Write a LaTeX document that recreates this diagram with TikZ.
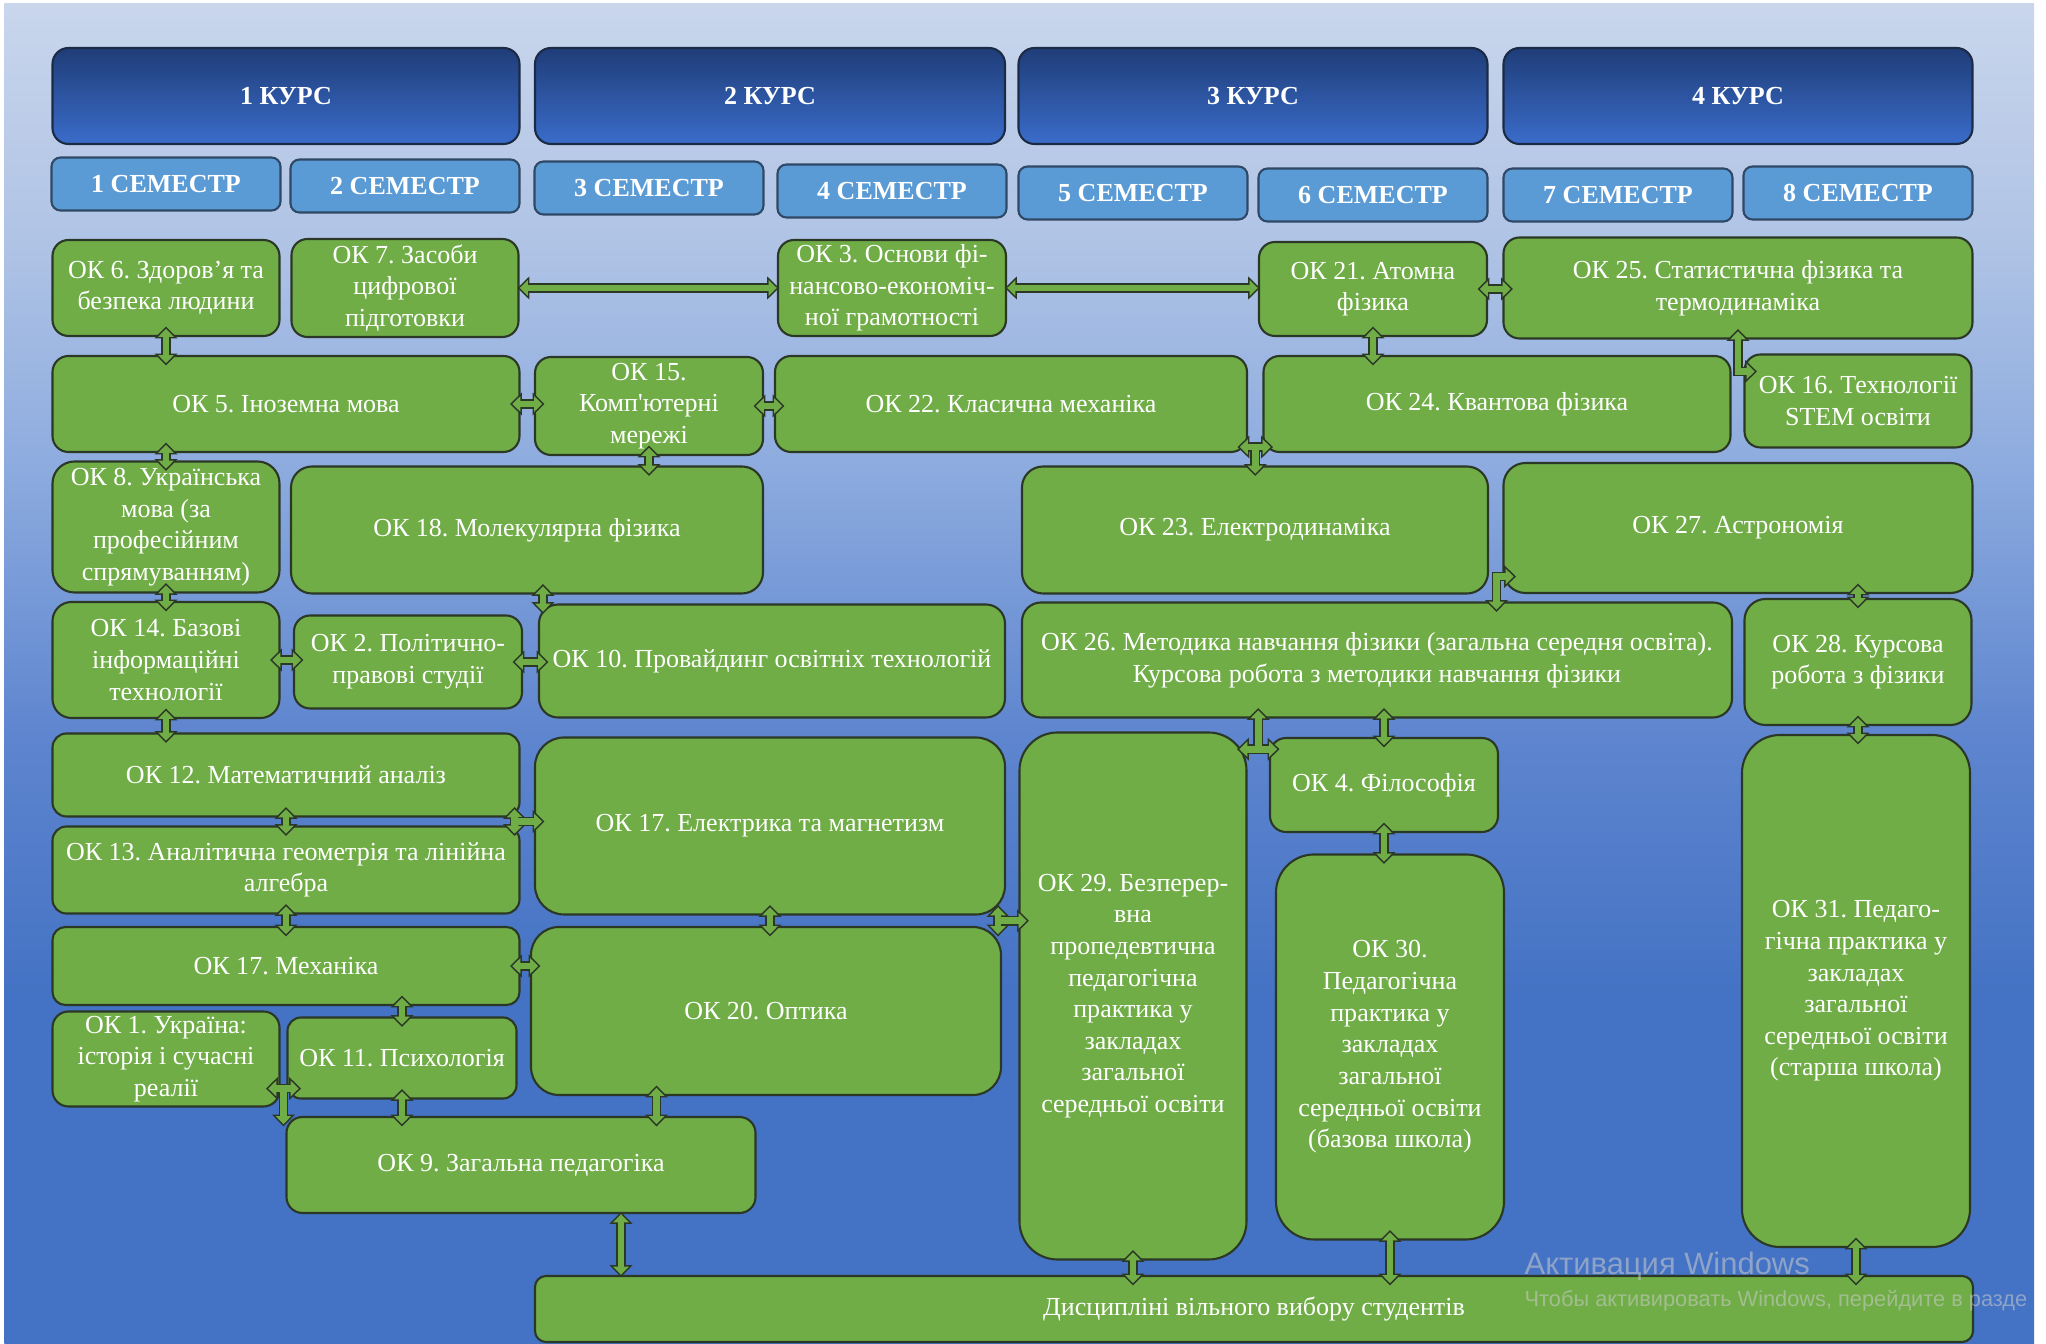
\documentclass[tikz,border=0pt]{standalone}
\usepackage{fontspec}
\setmainfont{Liberation Serif}
\newfontfamily\wmfont{Liberation Sans}
\usepackage{tikz}
\usetikzlibrary{arrows.meta, calc}
\frenchspacing

\definecolor{okgreen}{HTML}{70AD47}
\definecolor{okline}{HTML}{2B3826}
\definecolor{semblue}{HTML}{5B9BD5}
\definecolor{semline}{HTML}{2F4866}
\definecolor{kurstop}{HTML}{1F3D78}
\definecolor{kursbot}{HTML}{3A6CCA}
\definecolor{kursline}{HTML}{1C2B45}
\definecolor{bgbot}{HTML}{4472C4}
\definecolor{bgmida}{HTML}{5F86CF}
\definecolor{bgmidb}{HTML}{8EACDF}
\definecolor{bgmidc}{HTML}{AFC3E5}
\definecolor{bgtop}{HTML}{C9D6EC}
\pgfdeclareverticalshading{bgshade}{100bp}{color(0bp)=(bgbot); color(38bp)=(bgbot); color(48bp)=(bgmida); color(58bp)=(bgmidb); color(66bp)=(bgmidc); color(75bp)=(bgtop); color(100bp)=(bgtop)}

\tikzset{
  bigtip/.tip={Triangle[width=6.6pt,length=3.4pt,line width=0pt]},
  smalltip/.tip={Triangle[width=4.45pt,length=2.3pt,line width=0pt]},
  blk/.style={draw=okline, line width=2.8pt, shorten <=-3pt, shorten >=-3pt, bigtip-bigtip,
    postaction={draw=okgreen, line width=1.9pt, shorten <=-2.35pt, shorten >=-2.35pt, smalltip-smalltip}},
  blkl/.style={draw=okline, line width=2.8pt, shorten <=-0.6pt, shorten >=-0.6pt, bigtip-bigtip,
    postaction={draw=okgreen, line width=1.9pt, shorten <=0.05pt, shorten >=0.05pt, smalltip-smalltip}},
  blkto/.style={draw=okline, line width=2.8pt, shorten <=1.4pt, shorten >=-3pt, -bigtip,
    postaction={draw=okgreen, line width=1.9pt, shorten <=0.9pt, shorten >=-2.35pt, -smalltip}},
}

\begin{document}
\begin{tikzpicture}[x=1mm, y=-1mm,
    wh/.style 2 args={minimum width=#1mm, minimum height=#2mm},
    kurs/.style={draw=kursline, line width=0.6pt, rounded corners=1.6mm, top color=kurstop, bottom color=kursbot, text=white, inner sep=0pt, font=\bfseries\fontsize{7.4}{9}\selectfont},
    sem/.style={draw=semline, line width=0.6pt, rounded corners=0.9mm, fill=semblue, text=white, inner sep=0pt, font=\bfseries\fontsize{7.4}{9}\selectfont},
    ok/.style={draw=okline, line width=0.6pt, rounded corners=1.6mm, fill=okgreen, text=white, align=center, inner sep=0pt, font=\fontsize{7.4}{9}\selectfont},
    wm/.style={anchor=west, inner sep=0pt, text=gray!40, text opacity=0.55}]
  \useasboundingbox (0,0) rectangle (204.6,134.4);
  \fill[white] (0,0) rectangle (204.6,134.4);
  \shade[shading=bgshade] (0.45,0.4) rectangle (203.4,134.4);

  \node[kurs, wh={46.7}{9.6}] (kurs1) at (28.6,9.6) {1 КУРС};
  \node[kurs, wh={47.0}{9.6}] (kurs2) at (77.0,9.6) {2 КУРС};
  \node[kurs, wh={46.9}{9.6}] (kurs3) at (125.3,9.6) {3 КУРС};
  \node[kurs, wh={46.9}{9.6}] (kurs4) at (173.8,9.6) {4 КУРС};

  \node[sem, wh={22.9}{5.3}] (sem1) at (16.6,18.4) {1 СЕМЕСТР};
  \node[sem, wh={22.9}{5.3}] (sem2) at (40.5,18.6) {2 СЕМЕСТР};
  \node[sem, wh={22.9}{5.3}] (sem3) at (64.9,18.8) {3 СЕМЕСТР};
  \node[sem, wh={22.9}{5.3}] (sem4) at (89.2,19.1) {4 СЕМЕСТР};
  \node[sem, wh={22.9}{5.3}] (sem5) at (113.3,19.3) {5 СЕМЕСТР};
  \node[sem, wh={22.9}{5.3}] (sem6) at (137.3,19.5) {6 СЕМЕСТР};
  \node[sem, wh={22.9}{5.3}] (sem7) at (161.8,19.5) {7 СЕМЕСТР};
  \node[sem, wh={22.9}{5.3}] (sem8) at (185.8,19.3) {8 СЕМЕСТР};

  \node[ok, wh={22.7}{9.6}] (ok6) at (16.6,28.8) {ОК 6. Здоров’я та\\безпека людини};
  \node[ok, wh={22.7}{9.8}] (ok7) at (40.5,28.8) {ОК 7. Засоби\\цифрової\\підготовки};
  \node[ok, wh={22.8}{9.6}] (ok3) at (89.2,28.8) {ОК 3. Основи фі-\\нансово-економіч-\\ної грамотності};
  \node[ok, wh={22.8}{9.4}] (ok21) at (137.3,28.9) {ОК 21. Атомна\\фізика};
  \node[ok, wh={46.9}{10.1}] (ok25) at (173.8,28.8) {ОК 25. Статистична фізика та\\термодинаміка};

  \node[ok, wh={46.7}{9.6}] (ok5) at (28.6,40.4) {ОК 5. Іноземна мова};
  \node[ok, wh={22.8}{9.8}] (ok15) at (64.9,40.6) {ОК 15.\\Комп\textquotesingle ютерні\\мережі};
  \node[ok, wh={47.2}{9.6}] (ok22) at (101.1,40.4) {ОК 22. Класична механіка};
  \node[ok, wh={46.7}{9.6}] (ok24) at (149.7,40.4) {ОК 24. Квантова фізика};
  \node[ok, wh={22.7}{9.3}] (ok16) at (185.8,40.1) {ОК 16. Технології\\STEM освіти};

  \node[ok, wh={22.7}{13.1}, rounded corners=2.2mm] (ok8) at (16.6,52.7) {ОК 8. Українська\\мова (за\\професійним\\спрямуванням)};
  \node[ok, wh={47.2}{12.7}, rounded corners=2.1mm] (ok18) at (52.7,53.0) {ОК 18. Молекулярна фізика};
  \node[ok, wh={46.6}{12.7}, rounded corners=2.1mm] (ok23) at (125.5,53.0) {ОК 23. Електродинаміка};
  \node[ok, wh={46.9}{13.0}, rounded corners=2.2mm] (ok27) at (173.8,52.8) {ОК 27. Астрономія};

  \node[ok, wh={22.7}{11.6}, rounded corners=1.9mm] (ok14) at (16.6,66.0) {ОК 14. Базові\\інформаційні\\технології};
  \node[ok, wh={22.8}{9.3}] (ok2) at (40.8,66.2) {ОК 2. Політично-\\правові студії};
  \node[ok, wh={46.6}{11.3}, rounded corners=1.9mm] (ok10) at (77.2,66.1) {ОК 10. Провайдинг освітніх технологій};
  \node[ok, wh={71.0}{11.5}, rounded corners=1.9mm] (ok26) at (137.7,66.0) {ОК 26. Методика навчання фізики (загальна середня освіта).\\Курсова робота з методики навчання фізики};
  \node[ok, wh={22.7}{12.6}, rounded corners=2.1mm] (ok28) at (185.8,66.2) {ОК 28. Курсова\\робота з фізики};

  \node[ok, wh={46.7}{8.3}, rounded corners=1.4mm] (ok12) at (28.6,77.5) {ОК 12. Математичний аналіз};
  \node[ok, wh={46.7}{8.7}, rounded corners=1.4mm] (ok13) at (28.6,87.0) {ОК 13. Аналітична геометрія та лінійна\\алгебра};
  \node[ok, wh={47.0}{17.7}, rounded corners=2.9mm] (ok17e) at (77.0,82.6) {ОК 17. Електрика та магнетизм};
  \node[ok, wh={22.7}{52.7}, rounded corners=3.8mm] (ok29) at (113.3,99.6) {ОК 29. Безперер-\\вна\\пропедевтична\\педагогічна\\практика у\\закладах\\загальної\\середньої освіти};
  \node[ok, wh={22.8}{9.4}] (ok4) at (138.4,78.5) {ОК 4. Філософія};
  \node[ok, wh={22.8}{38.5}, rounded corners=3.8mm] (ok30) at (139.0,104.7) {ОК 30.\\Педагогічна\\практика у\\закладах\\загальної\\середньої освіти\\(базова школа)};
  \node[ok, wh={22.8}{51.2}, rounded corners=3.8mm] (ok31) at (185.6,99.1) {ОК 31. Педаго-\\гічна практика у\\закладах\\загальної\\середньої освіти\\(старша школа)};

  \node[ok, wh={46.7}{7.8}, rounded corners=1.3mm] (ok17m) at (28.6,96.6) {ОК 17. Механіка};
  \node[ok, wh={47.0}{16.8}, rounded corners=2.8mm] (ok20) at (76.6,101.1) {ОК 20. Оптика};
  \node[ok, wh={22.7}{9.5}] (ok1) at (16.6,105.9) {ОК 1. Україна:\\історія і сучасні\\реалії};
  \node[ok, wh={22.9}{8.1}, rounded corners=1.35mm] (ok11) at (40.2,105.8) {ОК 11. Психологія};
  \node[ok, wh={46.9}{9.6}] (ok9) at (52.1,116.5) {ОК 9. Загальна педагогіка};
  \node[ok, wh={143.8}{6.6}, rounded corners=1.1mm] (disc) at (125.4,130.9) {Дисципліні вільного вибору студентів};

  \draw[blkl] (ok7.east) -- (ok3.west);
  \draw[blkl] (ok3.east) -- (ok3.east -| ok21.west);
  \draw[blk] (ok21.east) -- (ok21.east -| ok25.west);
  \draw[blk] (ok6.south) -- (ok6.south |- ok5.north);
  \draw[blk] (ok5.east) -- (ok5.east -| ok15.west);
  \draw[blk] (ok15.east) -- (ok15.east -| ok22.west);
  \draw[blk] (ok21.south) -- (ok21.south |- ok24.north);
  \coordinate (t16) at ($(ok16.north west)+(0.3,1.8)$);
  \draw[blk] (ok25.south) |- (t16);
  \coordinate (j9) at ($(ok22.south east)!0.5!(ok24.south west)+(0,-0.6)$);
  \draw[blk] (ok22.east |- j9) -- (ok24.west |- j9);
  \draw[blkto] (j9) -- (j9 |- ok23.north);

  \draw[blk] (ok8.north |- ok5.south) -- (ok8.north);
  \draw[blk] (ok15.south) -- (ok15.south |- ok18.north);
  \draw[blk] (ok8.south) -- (ok14.north);
  \coordinate (p13) at ($(ok10.north west)+(0.5,0)$);
  \draw[blk] (p13 |- ok18.south) -- (p13);
  \draw[blk] (ok14.east) -- (ok14.east -| ok2.west);
  \draw[blk] (ok2.east) -- (ok2.east -| ok10.west);
  \coordinate (t27) at ($(ok27.west |- ok23.south)+(0.3,-1.8)$);
  \coordinate (s26) at ($(ok27.west |- ok26.north)+(-0.6,0)$);
  \draw[blk] (t27) -| (s26);

  \draw[blk] (ok14.south) -- (ok14.south |- ok12.north);
  \draw[blk] (ok12.south) -- (ok13.north);
  \coordinate (j19) at ($(ok12.south east)!0.5!(ok13.north east)+(-0.6,0)$);
  \draw[blk] (j19 |- ok12.south) -- (j19 |- ok13.north);
  \draw[blkto] (j19) -- (j19 -| ok17e.west);
  \draw[blk] (ok13.south) -- (ok17m.north);
  \draw[blk] (ok17e.south) -- (ok17e.south |- ok20.north);
  \coordinate (j22) at ($(ok17e.south east)!0.5!(ok20.north east)+(-0.6,0)$);
  \draw[blk] (j22 |- ok17e.south) -- (j22 |- ok20.north);
  \draw[blkto] (j22) -- (j22 -| ok29.west);
  \draw[blk] (ok17m.east) -- (ok17m.east -| ok20.west);
  \draw[blk] (ok11.north |- ok17m.south) -- (ok11.north);
  \coordinate (j25) at ($(ok1.south east)!0.5!(ok11.south west)+(0,-1.5)$);
  \draw[blk] ($(j25)+(-0.7,0)$) -- ($(j25)+(0.7,0)$);
  \draw[blkto] (j25) -- (j25 |- ok9.north);
  \draw[blk] (ok11.south) -- (ok11.south |- ok9.north);
  \coordinate (p27) at ($(ok9.north east)+(-10,0)$);
  \draw[blk] (p27 |- ok20.south) -- (p27);
  \coordinate (p28) at ($(ok9.south)+(10,0)$);
  \draw[blkl] (p28) -- (p28 |- disc.north);

  \coordinate (j29) at ($(ok29.north east)!0.5!(ok4.north west)+(0,1.5)$);
  \draw[blk] (ok29.east |- j29) -- (ok4.west |- j29);
  \draw[blkto] (j29) -- (j29 |- ok26.south);
  \draw[blk] (ok4.north |- ok26.south) -- (ok4.north);
  \draw[blk] (ok4.south) -- (ok4.south |- ok30.north);
  \draw[blk] (ok28.north |- ok27.south) -- (ok28.north);
  \draw[blk] (ok28.south) -- (ok28.south |- ok31.north);
  \draw[blk] (ok29.south) -- (ok29.south |- disc.north);
  \draw[blk] (ok30.south) -- (ok30.south |- disc.north);
  \draw[blk] (ok31.south) -- (ok31.south |- disc.north);

  \begin{scope}
    \clip (0.45,0.4) rectangle (203.4,134.4);
    \node[wm, font=\wmfont\fontsize{8.8}{10}\selectfont] (wm1) at (152.4,126.6) {Активация Windows};
    \node[wm, font=\wmfont\fontsize{6.2}{7}\selectfont] (wm2) at (152.4,130.1) {Чтобы активировать Windows, перейдите в разде};
  \end{scope}
\end{tikzpicture}
\end{document}
